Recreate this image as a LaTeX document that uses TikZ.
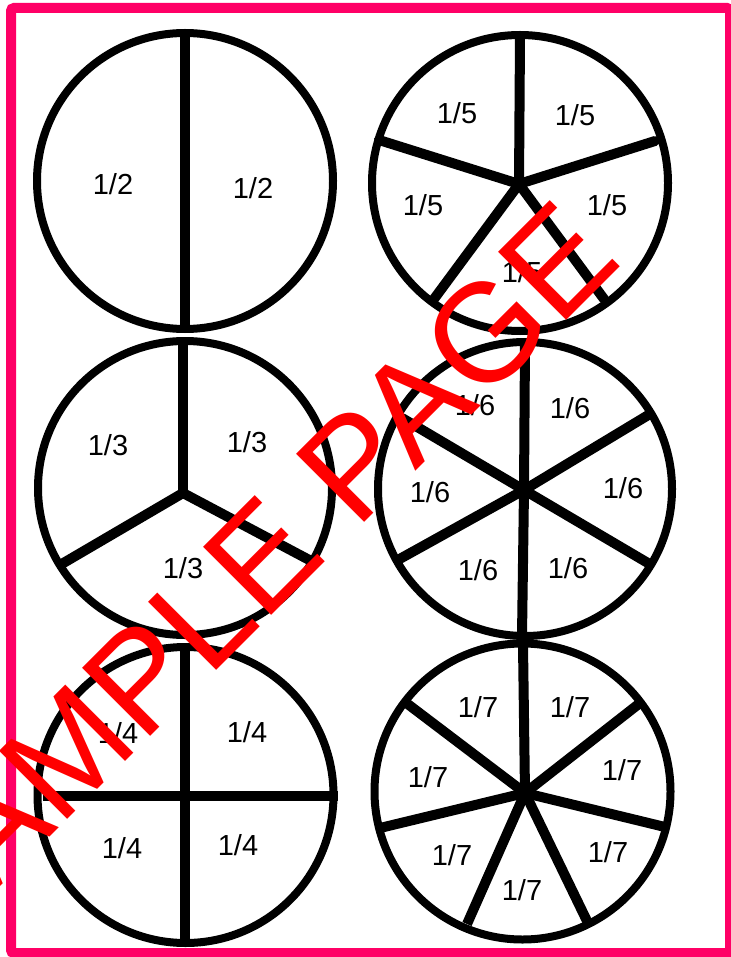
\documentclass[tikz,border=0pt]{standalone}
\usepackage{fontspec}
\setmainfont{Liberation Sans}
\definecolor{framepink}{HTML}{FF0066}
\definecolor{markred}{HTML}{FF0000}
\begin{document}
\begin{tikzpicture}[x=1pt,y=-1pt,
  rim/.style={line width=8pt,draw=black},
  spoke/.style={line width=10pt,draw=black},
  frac/.style={inner sep=0pt,font=\fontsize{29}{30}\selectfont},
  wmark/.style={inner sep=0pt,text=markred,font=\fontsize{140}{140}\selectfont}]
\useasboundingbox (0,0) rectangle (730,957);
\fill[white] (0,0) rectangle (730,957);
% frame
\draw[line width=10pt,draw=framepink,rounded corners=3pt] (11,8) rectangle (730,953);

% ---- circle 1: halves
\coordinate (c1) at (185,181);
\draw[rim] (c1) circle[radius=148];
\coordinate (c1t) at (185,33);
\coordinate (c1b) at (185,328);
\draw[spoke] (c1t) -- (c1b);
\node[frac] (h1) at (113,184) {1/2};
\node[frac] (h2) at (253,188) {1/2};

% ---- circle 2: fifths
\coordinate (c2) at (520,183);
\coordinate (c2o) at (519,184);
\draw[rim] (c2) circle[radius=148];
\coordinate (f1) at (520,36);
\coordinate (f2) at (655,141);
\coordinate (f3) at (379,140);
\coordinate (f4) at (434,299);
\coordinate (f5) at (604,299);
\foreach \e in {f1,f2,f3,f4,f5} \draw[spoke,line cap=round] (c2o) -- (\e);
\node[frac] (v1) at (457,113) {1/5};
\node[frac] (v2) at (575,115) {1/5};
\node[frac] (v3) at (423,205) {1/5};
\node[frac] (v4) at (607,205) {1/5};
\node[frac] (v5) at (522,272) {1/5};

% ---- circle 3: thirds
\coordinate (c3) at (185,488);
\coordinate (c3o) at (183,493);
\draw[rim] (c3) circle[radius=147];
\coordinate (t1) at (183,340);
\coordinate (t2) at (60,565);
\coordinate (t3) at (315,563);
\foreach \e in {t1,t2,t3} \draw[spoke] (c3o) -- (\e);
\node[frac] (r1) at (108,445) {1/3};
\node[frac] (r2) at (247,442) {1/3};
\node[frac] (r3) at (183,568) {1/3};

% ---- circle 4: sixths
\coordinate (c4) at (525,489);
\coordinate (c4o) at (524,490);
\draw[rim] (c4) circle[radius=147];
\coordinate (s1) at (525,343);
\coordinate (s2) at (522,636);
\coordinate (s3) at (650,414);
\coordinate (s4) at (402,418);
\coordinate (s5) at (396,561);
\coordinate (s6) at (653,566);
\foreach \e in {s1,s2,s3,s4,s5,s6} \draw[spoke] (c4o) -- (\e);
\node[frac] (x1) at (475,405) {1/6};
\node[frac] (x2) at (570,408) {1/6};
\node[frac] (x3) at (430,492) {1/6};
\node[frac] (x4) at (623,488) {1/6};
\node[frac] (x5) at (478,570) {1/6};
\node[frac] (x6) at (568,568) {1/6};

% ---- circle 5: quarters
\coordinate (c5) at (185.5,795);
\draw[rim] (c5) circle[radius=148];
\coordinate (q1) at (185,645);
\coordinate (q2) at (185,945);
\coordinate (q3) at (43,796);
\coordinate (q4) at (338,796);
\draw[spoke] (q1) -- (q2);
\draw[spoke] (q3) -- (q4);
\node[frac] (u1) at (118,733) {1/4};
\node[frac] (u2) at (247,732) {1/4};
\node[frac] (u3) at (122,848) {1/4};
\node[frac] (u4) at (238,845) {1/4};

% ---- circle 6: sevenths
\coordinate (c6) at (522.5,791.5);
\coordinate (c6o) at (525,793);
\draw[rim] (c6) circle[radius=148];
\coordinate (w1) at (523,645);
\coordinate (w2) at (640,703);
\coordinate (w3) at (665,827);
\coordinate (w4) at (587,921);
\coordinate (w5) at (467,924);
\coordinate (w6) at (380,828);
\coordinate (w7) at (405,702);
\foreach \e in {w1,w2,w3,w4,w5,w6,w7} \draw[spoke] (c6o) -- (\e);
\node[frac] (z1) at (478,707) {1/7};
\node[frac] (z2) at (570,707) {1/7};
\node[frac] (z3) at (622,770) {1/7};
\node[frac] (z4) at (428,777) {1/7};
\node[frac] (z5) at (452,855) {1/7};
\node[frac] (z6) at (608,852) {1/7};
\node[frac] (z7) at (522,890) {1/7};

% ---- watermark
\node[wmark,anchor=base,rotate=45] (wm) at (276,611) {SAMPLE PAGE};
\end{tikzpicture}
\end{document}
